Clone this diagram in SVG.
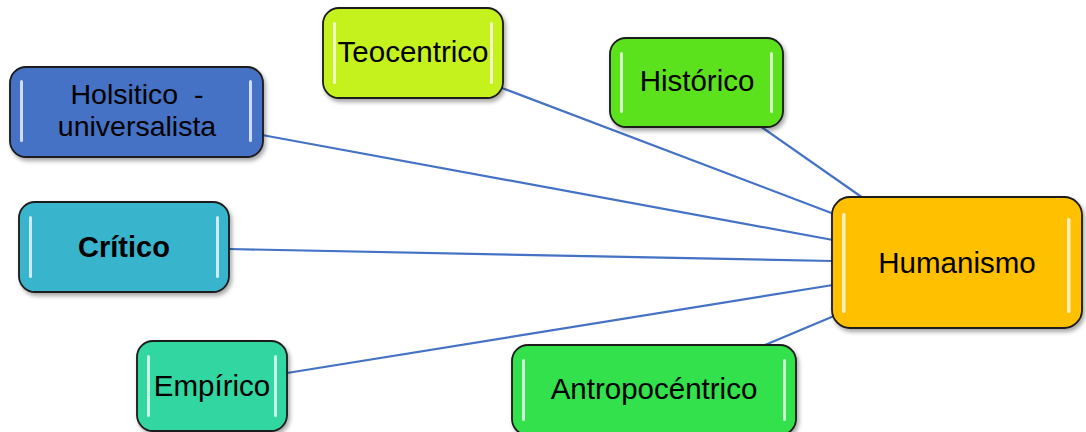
<svg xmlns="http://www.w3.org/2000/svg" width="1086" height="432" viewBox="0 0 1086 432">
<defs>
<style>
.box{stroke:#1a1a1a;stroke-width:1.8}
.hl{fill:#ffffff;opacity:0.75}
.t{font-family:"Liberation Sans",Arial,sans-serif;font-size:29.5px;fill:#000;text-anchor:middle}
.b{font-weight:bold;font-size:29px}
.s{font-size:28.5px}
.c{stroke:#4472C4;stroke-width:2.2;fill:none}
</style>
<filter id="sh" x="-10%" y="-10%" width="125%" height="130%">
<feDropShadow dx="2" dy="3" stdDeviation="2" flood-color="#000" flood-opacity="0.35"/>
</filter>
</defs>
<rect width="1086" height="432" fill="#ffffff"/>
<g id="connectors">
<line class="c" x1="502" y1="88" x2="834" y2="214"/>
<line class="c" x1="760" y1="126" x2="863" y2="198"/>
<line class="c" x1="262" y1="135" x2="833" y2="240"/>
<line class="c" x1="229" y1="249" x2="833" y2="261"/>
<line class="c" x1="287" y1="373" x2="833" y2="285"/>
<line class="c" x1="765" y1="345" x2="834" y2="316"/>
</g>
<g id="teocentrico">
<rect class="box" x="323" y="8" width="180" height="90" rx="16" fill="#C5F21B" filter="url(#sh)"/>
<rect class="hl" x="333" y="22" width="3" height="62" rx="1.5"/>
<rect class="hl" x="490" y="22" width="3" height="62" rx="1.5"/>
<text class="t" x="413" y="62">Teocentrico</text>
</g>
<g id="historico">
<rect class="box" x="610" y="38" width="173" height="89" rx="16" fill="#5BE21B" filter="url(#sh)"/>
<rect class="hl" x="620" y="52" width="3" height="61" rx="1.5"/>
<rect class="hl" x="770" y="52" width="3" height="61" rx="1.5"/>
<text class="t" x="697" y="91">Histórico</text>
</g>
<g id="holsitico">
<rect class="box" x="10" y="67" width="253" height="90" rx="16" fill="#4472C4" filter="url(#sh)"/>
<rect class="hl" x="20" y="80" width="3" height="62" rx="1.5"/>
<rect class="hl" x="249" y="80" width="3" height="62" rx="1.5"/>
<text class="t s" x="137" y="104" xml:space="preserve">Holsitico  -</text>
<text class="t s" x="137" y="136">universalista</text>
</g>
<g id="critico">
<rect class="box" x="19" y="202" width="210" height="90" rx="16" fill="#38B4CC" filter="url(#sh)"/>
<rect class="hl" x="29" y="216" width="3" height="62" rx="1.5"/>
<rect class="hl" x="216" y="216" width="3" height="62" rx="1.5"/>
<text class="t b" x="124" y="257">Crítico</text>
</g>
<g id="empirico">
<rect class="box" x="137" y="341" width="150" height="90" rx="16" fill="#33D6A1" filter="url(#sh)"/>
<rect class="hl" x="147" y="355" width="3" height="62" rx="1.5"/>
<rect class="hl" x="274" y="355" width="3" height="62" rx="1.5"/>
<text class="t" x="212" y="396">Empírico</text>
</g>
<g id="antropocentrico">
<rect class="box" x="512" y="345" width="284" height="90" rx="16" fill="#32E14B" filter="url(#sh)"/>
<rect class="hl" x="522" y="359" width="3" height="62" rx="1.5"/>
<rect class="hl" x="783" y="359" width="3" height="62" rx="1.5"/>
<text class="t" x="654" y="399">Antropocéntrico</text>
</g>
<g id="humanismo">
<rect class="box" x="832" y="197" width="250" height="131" rx="18" fill="#FFC000" filter="url(#sh)"/>
<rect class="hl" x="842" y="213" width="3.5" height="100" rx="1.5" fill="#FFFF88"/>
<rect class="hl" x="1067" y="218" width="3.5" height="95" rx="1.5"/>
<text class="t" x="957" y="273">Humanismo</text>
</g>
</svg>
